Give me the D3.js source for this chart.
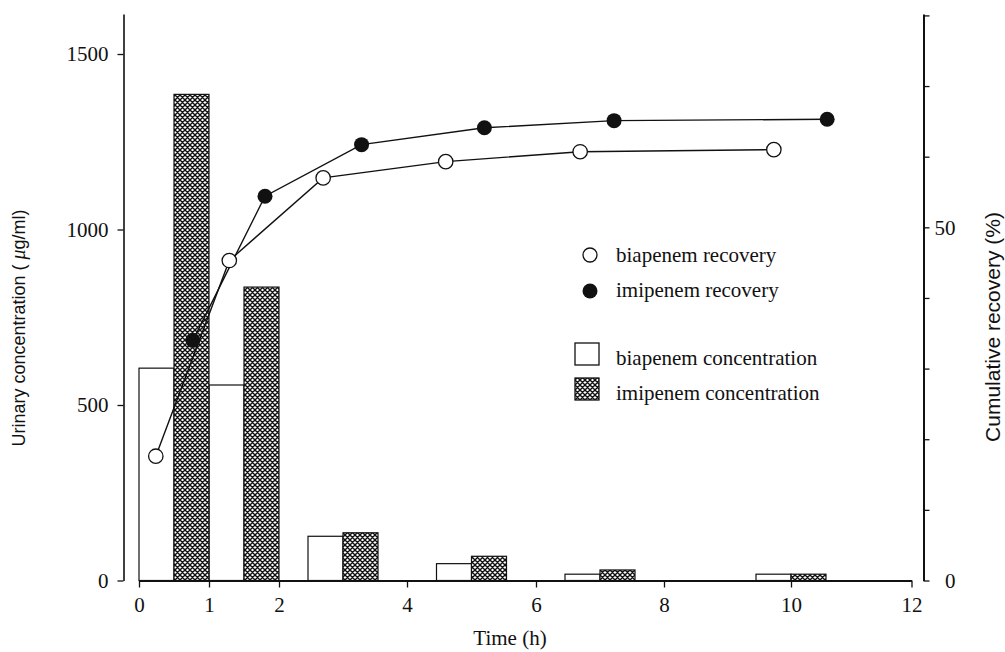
<!DOCTYPE html>
<html>
<head>
<meta charset="utf-8">
<script src="https://cdn.jsdelivr.net/npm/d3@7"></script>
<style>
  html, body { margin: 0; padding: 0; background: #fff; }
  svg { display: block; }
  .tick text { font-family: "Liberation Serif", "Times New Roman", serif; font-size: 21px; fill: #111; }
  .tick line, .domain { stroke: #111; }
</style>
</head>
<body>
<div id="chart"></div>
<script>
// collection intervals (bar centres, hours) and urinary concentrations (µg/ml)
const intervalMid = [0.5, 1.5, 3, 5, 7, 10];
const biapConc = [605, 557, 126, 48, 18, 18];
const imipConc = [1385, 836, 136, 69, 30, 18];

// cumulative recovery (%) points
const biapTimes = [0.24, 1.29, 2.69, 4.6, 6.69, 9.73];
const biapRecovery = [17.6, 45.3, 57.0, 59.3, 60.7, 61.0];
const imipTimes = [0.77, 1.8, 3.29, 5.2, 7.22, 10.6];
const imipRecovery = [34.0, 54.4, 61.7, 64.1, 65.1, 65.3];

const xTicks = [0, 1, 2, 4, 6, 8, 10, 12];
const leftTicks = [0, 500, 1000, 1500];
const rightTicks = [0, 10, 20, 30, 40, 50, 60, 70, 80];
const rightLabels = { 0: "0", 50: "50" };

const width = 1005, height = 652;
const serif = '"Liberation Serif", "Times New Roman", serif';
const sans = '"Liberation Sans", Arial, sans-serif';

const svg = d3.select("#chart").append("svg")
  .attr("width", width).attr("height", height)
  .attr("viewBox", `0 0 ${width} ${height}`);

svg.append("rect").attr("width", width).attr("height", height).attr("fill", "#fff");

const defs = svg.append("defs");
const pat = defs.append("pattern")
  .attr("id", "xhatch")
  .attr("patternUnits", "userSpaceOnUse")
  .attr("width", 5).attr("height", 5);
pat.append("rect").attr("width", 5).attr("height", 5).attr("fill", "#fff");
pat.append("path")
  .attr("d", "M0,0L5,5M5,0L0,5M-1,4L1,6M4,-1L6,1M-1,1L1,-1M4,6L6,4")
  .attr("stroke", "#111").attr("stroke-width", 1.4);

// the printed time axis is slightly uneven, so map through its tick positions
const x = d3.scaleLinear()
  .domain([0, 2, 4, 6, 8, 10, 12])
  .range([139, 279, 407, 536, 664, 791, 911.5]);
const yL = d3.scaleLinear().domain([0, 1614]).range([580.5, 14]);
const yR = d3.scaleLinear().domain([0, 80.2]).range([580.5, 14]);

const barW = 35;

// bars
const bars = svg.append("g").attr("stroke", "#111").attr("stroke-width", 1.2);
bars.selectAll("rect.biap")
  .data(intervalMid.map((t, i) => ({ t, v: biapConc[i] })))
  .join("rect").attr("class", "biap")
  .attr("x", (d) => x(d.t) - barW)
  .attr("y", (d) => yL(d.v))
  .attr("width", barW)
  .attr("height", (d) => yL(0) - yL(d.v))
  .attr("fill", "#fff");
bars.selectAll("rect.imip")
  .data(intervalMid.map((t, i) => ({ t, v: imipConc[i] })))
  .join("rect").attr("class", "imip")
  .attr("x", (d) => x(d.t))
  .attr("y", (d) => yL(d.v))
  .attr("width", barW)
  .attr("height", (d) => yL(0) - yL(d.v))
  .attr("fill", "url(#xhatch)");

// axes
svg.append("g")
  .attr("transform", `translate(0, ${yL(0)})`)
  .call(d3.axisBottom(x).tickValues(xTicks).tickSize(7).tickSizeOuter(0).tickPadding(10))
  .call((g) => g.select(".domain").attr("stroke-width", 1.8))
  .call((g) => g.selectAll(".tick line").attr("stroke-width", 1.3));

svg.append("g")
  .attr("transform", "translate(123.5, 0)")
  .call(d3.axisLeft(yL).tickValues(leftTicks).tickFormat(d3.format("d"))
    .tickSize(6).tickSizeOuter(0).tickPadding(9))
  .call((g) => g.select(".domain").attr("stroke-width", 1.6))
  .call((g) => g.selectAll(".tick line").attr("stroke-width", 1.3));

svg.append("g")
  .attr("transform", "translate(923.5, 0)")
  .call(d3.axisRight(yR).tickValues(rightTicks).tickSize(6).tickSizeOuter(0)
    .tickFormat((d) => rightLabels[d] || ""))
  .call((g) => g.select(".domain").attr("stroke-width", 2))
  .call((g) => g.selectAll(".tick line").attr("stroke-width", 1.3))
  .call((g) => g.selectAll(".tick text").attr("text-anchor", "end").attr("x", 32));

// recovery lines
const line = d3.line().x((d) => x(d.t)).y((d) => yR(d.v));
const biapPts = biapTimes.map((t, i) => ({ t, v: biapRecovery[i] }));
const imipPts = imipTimes.map((t, i) => ({ t, v: imipRecovery[i] }));

[biapPts, imipPts].forEach((pts) => {
  svg.append("path").datum(pts)
    .attr("d", line)
    .attr("fill", "none").attr("stroke", "#111").attr("stroke-width", 1.4);
});

svg.append("g").selectAll("circle")
  .data(biapPts).join("circle")
  .attr("cx", (d) => x(d.t)).attr("cy", (d) => yR(d.v)).attr("r", 7.2)
  .attr("fill", "#fff").attr("stroke", "#111").attr("stroke-width", 1.3);
svg.append("g").selectAll("circle")
  .data(imipPts).join("circle")
  .attr("cx", (d) => x(d.t)).attr("cy", (d) => yR(d.v)).attr("r", 7.5)
  .attr("fill", "#111");

// legend
const legend = svg.append("g")
  .attr("font-family", serif).attr("font-size", 21).attr("fill", "#111");
legend.append("circle").attr("cx", 590).attr("cy", 255).attr("r", 7)
  .attr("fill", "#fff").attr("stroke", "#111").attr("stroke-width", 1.3);
legend.append("text").attr("x", 616).attr("y", 262).text("biapenem recovery");
legend.append("circle").attr("cx", 590).attr("cy", 291).attr("r", 7.5).attr("fill", "#111");
legend.append("text").attr("x", 616).attr("y", 297).text("imipenem recovery");
legend.append("rect").attr("x", 575).attr("y", 343).attr("width", 24).attr("height", 22)
  .attr("fill", "#fff").attr("stroke", "#111").attr("stroke-width", 1.3);
legend.append("text").attr("x", 616).attr("y", 365).text("biapenem concentration");
legend.append("rect").attr("x", 575).attr("y", 378).attr("width", 24).attr("height", 22)
  .attr("fill", "url(#xhatch)").attr("stroke", "#111").attr("stroke-width", 1.3);
legend.append("text").attr("x", 616).attr("y", 400).text("imipenem concentration");

// axis titles
svg.append("text")
  .attr("x", 510).attr("y", 645)
  .attr("text-anchor", "middle")
  .attr("font-family", serif).attr("font-size", 21).attr("fill", "#111")
  .text("Time (h)");

const lt = svg.append("text")
  .attr("transform", "translate(25, 328) rotate(-90)")
  .attr("text-anchor", "middle")
  .attr("font-family", sans).attr("font-size", 18).attr("fill", "#111");
lt.append("tspan").text("Urinary concentration ( ");
lt.append("tspan").attr("font-style", "italic").attr("font-family", serif).attr("font-size", 20).text("μ");
lt.append("tspan").text("g/ml)");

svg.append("text")
  .attr("transform", "translate(1000, 327) rotate(-90)")
  .attr("text-anchor", "middle")
  .attr("font-family", sans).attr("font-size", 21).attr("fill", "#111")
  .text("Cumulative recovery (%)");
</script>
</body>
</html>
